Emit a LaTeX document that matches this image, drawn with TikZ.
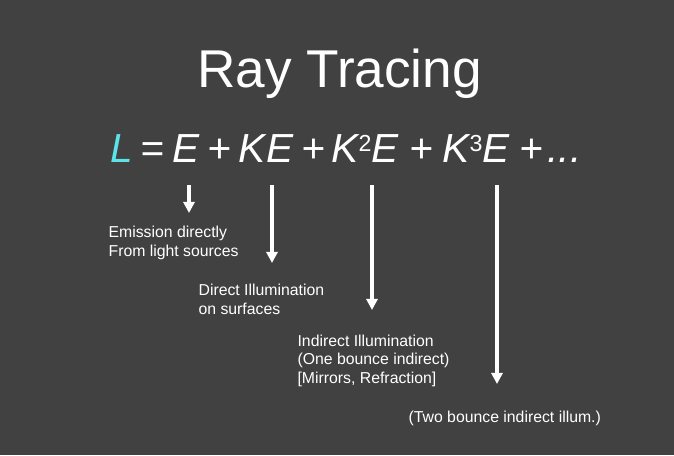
\documentclass[tikz,border=0pt]{standalone}
\usepackage{fontspec}
\setmainfont{Liberation Sans}
\usepackage{xcolor}
\usetikzlibrary{arrows.meta}
\definecolor{slidebg}{RGB}{65,65,65}
\definecolor{lcyan}{RGB}{92,226,232}
\newcommand{\pw}[1]{\raisebox{5.2pt}{\upshape\fontsize{11.6}{12}\selectfont #1}}

\begin{document}
\begin{tikzpicture}[x=0.5pt,y=-0.5pt,semithick]
	\tikzstyle{term}=[text=white, inner sep=0pt, anchor=base, font=\fontsize{20.3}{24}\selectfont\itshape]
	\tikzstyle{note}=[text=white, inner sep=0pt, anchor=base west, align=left, font=\fontsize{7.9}{9.35}\selectfont]
	\tikzstyle{pointer}=[white, line width=1.6pt, -{Triangle[width=5.6pt,length=5.6pt]}]
	\fill[slidebg] (0,0) rectangle (674,455);
	\useasboundingbox (0,0) rectangle (674,455);

	\node[text=white, inner sep=0pt, anchor=base, font=\fontsize{26.6}{30}\selectfont] (title) at (339.5,87) {Ray Tracing};

	% equation terms
	\node[term, text=lcyan] (L) at (122,162) {L};
	\node[term] (eq) at (152,162) {=};
	\node[term] (E0) at (186.5,162) {E};
	\node[term] (p1) at (219,162) {+};
	\node[term] (E1) at (266,162) {KE};
	\node[term] (p2) at (313.5,162) {+};
	\node[term] (E2) at (365,162) {K\pw{2}E};
	\node[term] (p3) at (421,162) {+};
	\node[term] (E3) at (476,162) {K\pw{3}E};
	\node[term] (p4) at (531,162) {+};
	\node[term] (dots) at (564.5,162) {...};

	% labels (anchored on the last line)
	\node[note] (n0) at (108,256) {Emission directly\\From light sources};
	\node[note] (n1) at (198,314.4) {Direct Illumination\\on surfaces};
	\node[note] (n2) at (297,383.4) {Indirect Illumination\\(One bounce indirect)\\{[Mirrors, Refraction]}};
	\node[note] (n3) at (408,422.7) {(Two bounce indirect illum.)};

	\foreach \x/\y in {189/213, 272/263, 372/310, 497/384}{
		\coordinate (s\x) at (\x,185);
		\coordinate (e\x) at (\x,\y);
		\draw[pointer] (s\x) -- (e\x);
		}
\end{tikzpicture}
\end{document}
